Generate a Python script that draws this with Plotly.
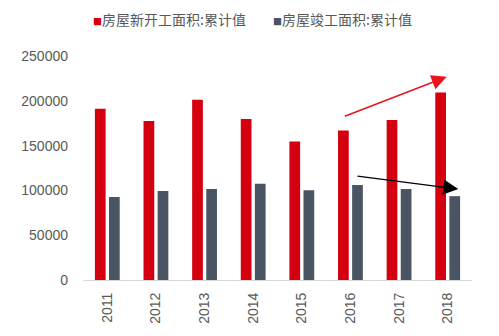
import plotly.graph_objects as go

years = ["2011", "2012", "2013", "2014", "2015", "2016", "2017", "2018"]
new_starts = [191237, 177334, 201208, 179592, 154454, 166928, 178654, 209342]
completions = [92620, 99425, 101435, 107459, 100039, 106128, 101486, 93550]
y_ticks = [0, 50000, 100000, 150000, 200000, 250000]
name_new = "房屋新开工面积:累计值"
name_done = "房屋竣工面积:累计值"

RED = "#D5000F"
GREY = "#4A5563"
TXT = "#595959"
FONT = "Noto Sans CJK SC, Liberation Sans, Arial, sans-serif"

fig = go.Figure()
fig.add_trace(go.Bar(x=years, y=new_starts, name=name_new, marker=dict(color=RED, line=dict(width=0)), showlegend=False))
fig.add_trace(go.Bar(x=years, y=completions, name=name_done, marker=dict(color=GREY, line=dict(width=0)), showlegend=False))

W, H = 499, 336
L, R, T, B = 83, 27, 55.5, 53

def px(x):
    return (x - L) / (W - L - R)

def py(y):
    return (H - B - y) / (H - T - B)

annotations = [
    dict(x=px(91), y=py(18), xref="paper", yref="paper", xanchor="left", yanchor="middle",
         showarrow=False,
         text=f'<span style="color:{RED};font-size:9px">■</span>{name_new}',
         font=dict(family=FONT, size=14, color=TXT)),
    dict(x=px(271), y=py(18), xref="paper", yref="paper", xanchor="left", yanchor="middle",
         showarrow=False,
         text=f'<span style="color:{GREY};font-size:9px">■</span>{name_done}',
         font=dict(family=FONT, size=14, color=TXT)),
    dict(x=px(446.7), y=py(76.7), ax=px(343.3), ay=py(117.3), xref="x domain", yref="y domain",
         axref="x domain", ayref="y domain", showarrow=True, arrowhead=2, arrowsize=2,
         arrowwidth=1.5, arrowcolor="#E8141E", text=""),
    dict(x=px(458.3), y=py(190.7), ax=px(356), ay=py(177.3), xref="x domain", yref="y domain",
         axref="x domain", ayref="y domain", showarrow=True, arrowhead=2, arrowsize=2,
         arrowwidth=1.5, arrowcolor="#000000", text=""),
]

fig.update_layout(
    width=W, height=H,
    margin=dict(l=L, r=R, t=T, b=B, pad=0),
    paper_bgcolor="white", plot_bgcolor="white",
    barmode="group", bargap=0.42, bargroupgap=0.24,
    font=dict(family=FONT, size=14, color=TXT),
    annotations=annotations,
    xaxis=dict(showgrid=False, showline=True, linecolor="#D9D9D9", linewidth=1,
               tickangle=-90, ticks="", ticklabelstandoff=6,
               tickfont=dict(family="Liberation Sans, Arial, sans-serif", size=14, color=TXT)),
    yaxis=dict(range=[0, 250000], tickvals=y_ticks, ticktext=[str(v) for v in y_ticks],
               showgrid=False, zeroline=False, showline=False, ticks="",
               ticklabelstandoff=14,
               tickfont=dict(family="Liberation Sans, Arial, sans-serif", size=14, color=TXT)),
)

fig.write_html("out.html")
